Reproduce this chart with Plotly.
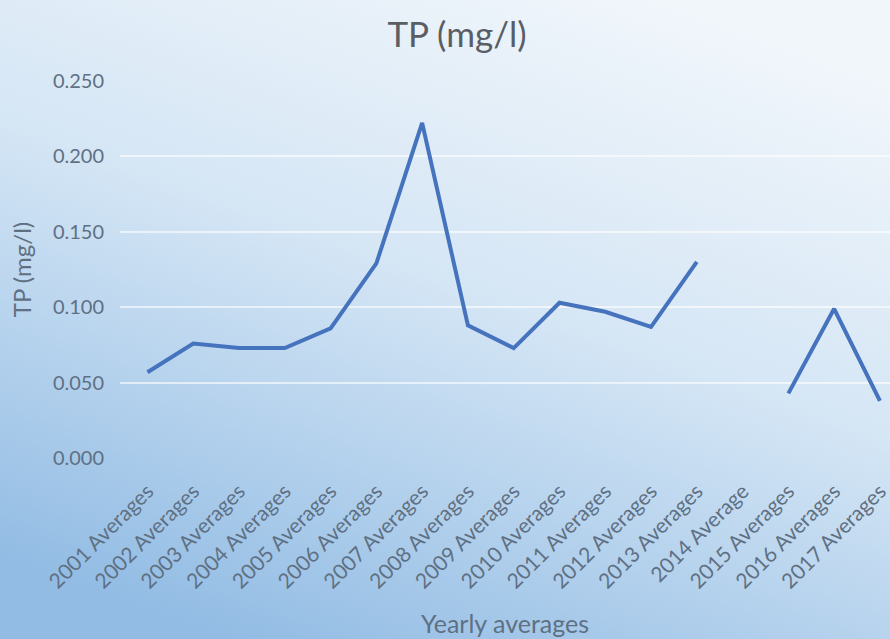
import base64
import plotly.graph_objects as go

categories = ["2001 Averages", "2002 Averages", "2003 Averages", "2004 Averages",
              "2005 Averages", "2006 Averages", "2007 Averages", "2008 Averages",
              "2009 Averages", "2010 Averages", "2011 Averages", "2012 Averages",
              "2013 Averages", "2014 Average", "2015 Averages", "2016 Averages",
              "2017 Averages"]
tp_values = [0.057, 0.076, 0.073, 0.073, 0.086, 0.129, 0.222, 0.088, 0.073,
             0.103, 0.097, 0.087, 0.130, None, 0.043, 0.099, 0.038]
y_ticks = [0.0, 0.05, 0.10, 0.15, 0.20, 0.25]
y_ticktext = ["0.000", "0.050", "0.100", "0.150", "0.200", "0.250"]

W, H = 890, 639
ML, MR, MT, MB = 120, 0, 80, 180
PW, PH = W - ML - MR, H - MT - MB

svg = f'''<svg xmlns="http://www.w3.org/2000/svg" width="{W}" height="{H}" viewBox="0 0 {W} {H}" preserveAspectRatio="none">
<defs><linearGradient id="g" x1="0.75" y1="0" x2="0.25" y2="1">
<stop offset="0" stop-color="#f1f6fb"/>
<stop offset="0.45" stop-color="#d5e6f5"/>
<stop offset="1" stop-color="#92bce4"/>
</linearGradient></defs>
<rect x="0" y="0" width="{W}" height="{H}" fill="url(#g)"/>
</svg>'''
src = "data:image/svg+xml;base64," + base64.b64encode(svg.encode()).decode()

fig = go.Figure()
fig.add_trace(go.Scatter(
    x=categories, y=tp_values, mode="lines",
    line=dict(color="#4673bd", width=4),
    connectgaps=False, showlegend=False,
))

fig.add_layout_image(dict(
    source=src, xref="paper", yref="paper",
    x=-ML / PW, y=1 + MT / PH, sizex=W / PW, sizey=H / PH,
    xanchor="left", yanchor="top", sizing="stretch", layer="below",
))

font_family = "Lato, 'Open Sans', sans-serif"
label_color = "#5f7083"
fig.update_layout(
    width=W, height=H,
    margin=dict(l=ML, r=MR, t=MT, b=MB, autoexpand=False),
    paper_bgcolor="#d6e6f4", plot_bgcolor="rgba(0,0,0,0)",
    font=dict(family=font_family, color=label_color),
    title=dict(text="TP (mg/l)", x=(457 - ML) / PW, xref="paper", xanchor="center",
               y=1 - 35 / H, yanchor="middle",
               font=dict(size=35, color="#5a5e64", family=font_family)),
    xaxis=dict(
        type="category", range=[-0.6, 16.22], automargin=False,
        showgrid=False, zeroline=False, showline=False, ticks="",
        tickangle=-45, tickfont=dict(size=21, color=label_color),
        ticklabelstandoff=15,
        title=dict(text="Yearly averages", font=dict(size=25, color=label_color), standoff=23),
    ),
    yaxis=dict(
        range=[-0.0004, 0.2504], tickvals=y_ticks, ticktext=y_ticktext, automargin=False,
        showgrid=True, gridcolor="rgba(255,255,255,0.6)", gridwidth=2,
        zeroline=False, showline=False, ticks="",
        tickfont=dict(size=20, color=label_color), ticklabelstandoff=15,
        title=dict(text="TP (mg/l)", font=dict(size=24, color=label_color), standoff=14),
    ),
)

fig.write_html("out.html", config={"displayModeBar": False},
               post_script="document.body.style.margin='0';")
